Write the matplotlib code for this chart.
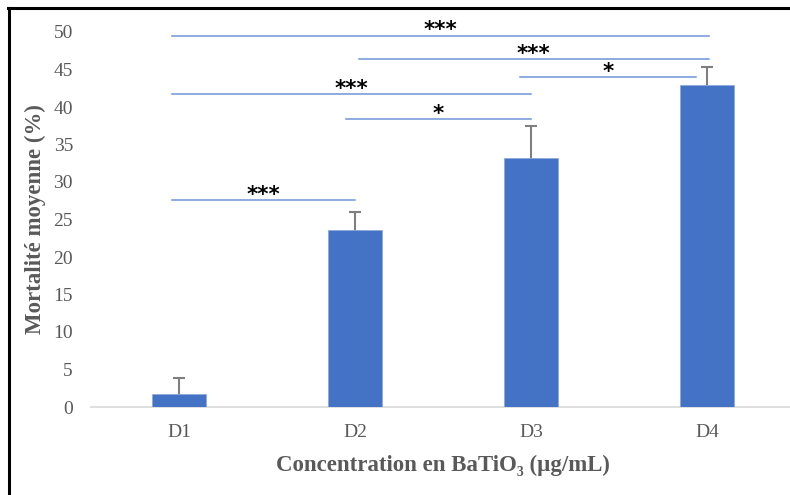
import matplotlib.pyplot as plt
from matplotlib.lines import Line2D
import numpy as np

# Values
categories = ['D1', 'D2', 'D3', 'D4']
mortality = [1.7, 23.6, 33.2, 42.9]
errors = [2.2, 2.4, 4.3, 2.5]

# significance brackets: start category, end category, height, label
sig_start = [-0.04, 1.02, 1.94, -0.04, 0.95, -0.04]
sig_end = [3.01, 3.01, 2.94, 2.0, 2.0, 1.0]
sig_y = [49.5, 46.4, 44.0, 41.7, 38.4, 27.6]
sig_label = ['***', '***', '*', '***', '*', '***']

plt.rcParams['font.family'] = ['Liberation Serif', 'DejaVu Serif']

fig = plt.figure(figsize=(7.9, 4.95), dpi=100)
ax = fig.add_axes([91 / 790, 88 / 495, 704 / 790, 375 / 495])

x = np.arange(len(categories))
ax.bar(x, mortality, width=0.31, color='#4472C4', edgecolor='#8faadc', linewidth=0.6, zorder=3)
# symmetric bars drawn behind the columns so only the upper half shows
ax.errorbar(x, mortality, yerr=errors, fmt='none',
            ecolor='#7f7f7f', elinewidth=1.5, capsize=4.5, capthick=1.5, zorder=2)

for s, e, y, lab in zip(sig_start, sig_end, sig_y, sig_label):
    ax.plot([s, e], [y, y], color='#6f95d8', linewidth=1.1, clip_on=False, zorder=1)
    ax.text((s + e) / 2, y - 0.1, lab, ha='center', va='baseline', fontsize=15.5,
            fontweight='bold', color='black', family=['DejaVu Sans'], clip_on=False)

ax.set_xlim(-0.5, 3.5)
ax.set_ylim(0, 50)
ax.set_yticks(range(0, 51, 5))
ax.set_xticks(x)
ax.set_xticklabels(categories)
ax.tick_params(axis='both', length=0, labelsize=14, labelcolor='#595959')
ax.tick_params(axis='y', pad=13)
ax.tick_params(axis='x', pad=12)

for side in ['top', 'right', 'left']:
    ax.spines[side].set_visible(False)
ax.spines['bottom'].set_color('#d9d9d9')
ax.spines['bottom'].set_linewidth(1.2)

ax.set_xlabel('Concentration en BaTiO₃ (µg/mL)', fontsize=16.5, fontweight='bold',
              color='#595959', labelpad=10)
ax.set_ylabel('Mortalité moyenne (%)', fontsize=16.5, fontweight='bold',
              color='#595959', labelpad=5)

# black frame on left and top
fig.add_artist(Line2D([8.7 / 790, 8.7 / 790], [0, 1 - 7.5 / 495], color='black',
                      linewidth=2.2, transform=fig.transFigure))
fig.add_artist(Line2D([7.5 / 790, 1], [1 - 7.5 / 495, 1 - 7.5 / 495], color='black',
                      linewidth=2.2, transform=fig.transFigure))

fig.savefig('out.png', dpi=100)
